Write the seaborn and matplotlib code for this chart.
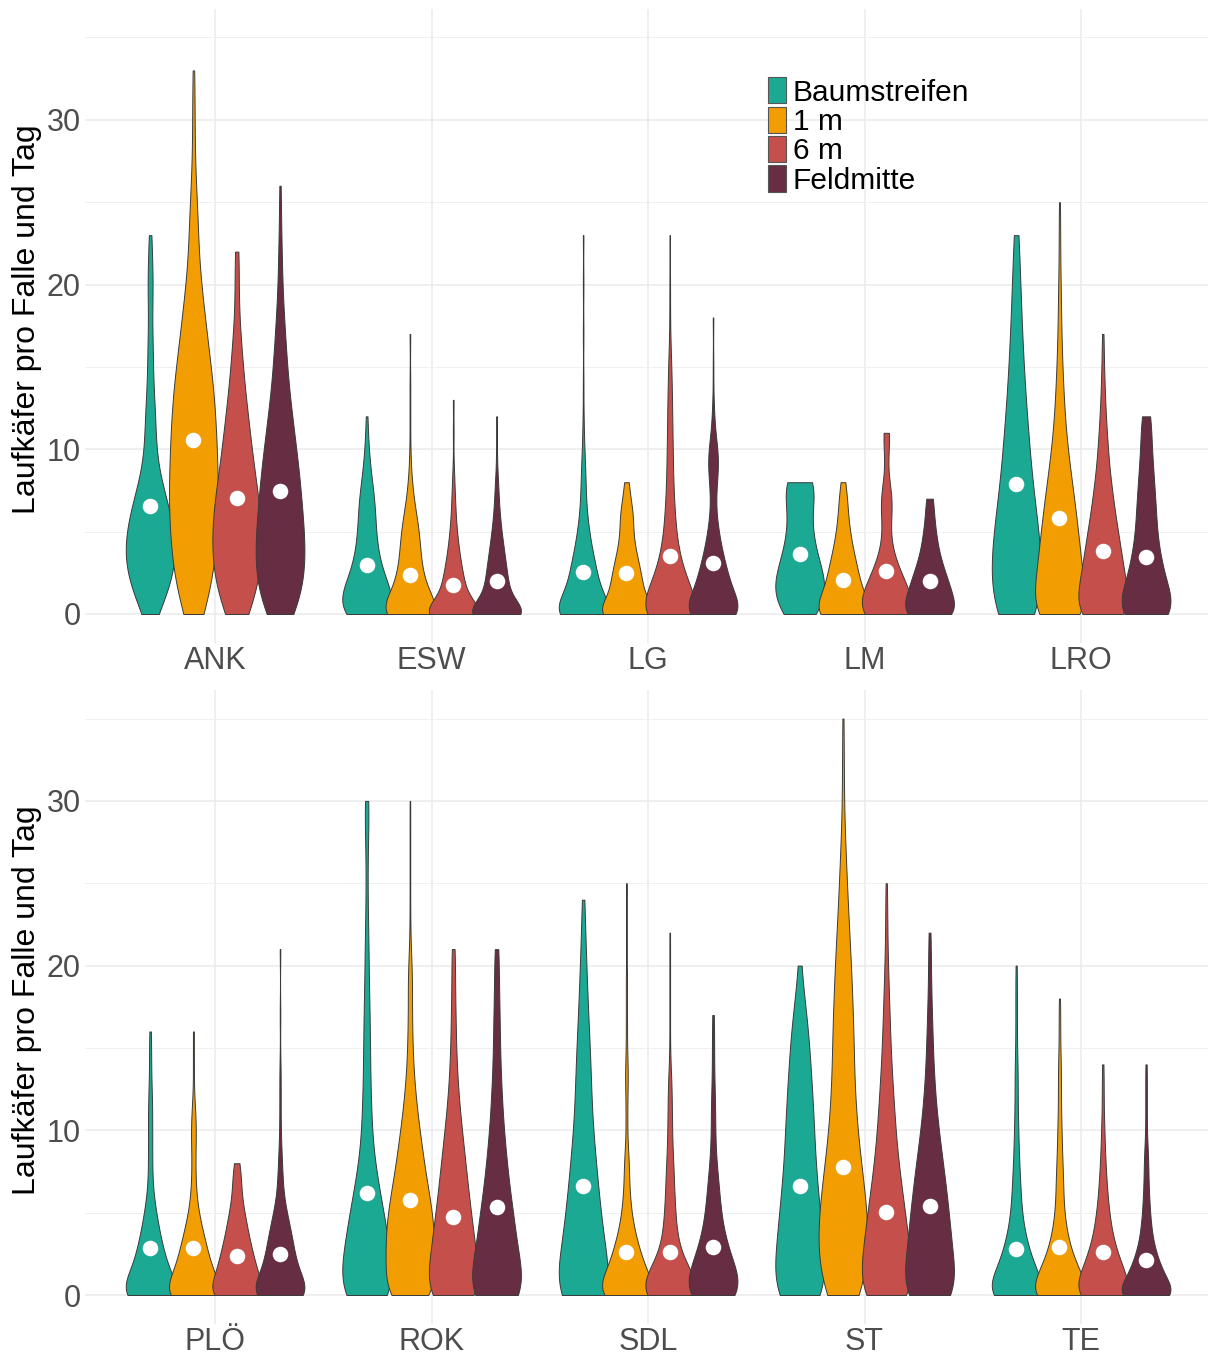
import numpy as np
import pandas as pd
import matplotlib
matplotlib.use("Agg")
import matplotlib.pyplot as plt
from matplotlib.patches import Patch
import seaborn as sns

positions = ["Baumstreifen", "1 m", "6 m", "Feldmitte"]
palette = ["#1BA994", "#F29E02", "#C5504B", "#672D43"]

sites_top = ["ANK", "ESW", "LG", "LM", "LRO"]
sites_bottom = ["PLÖ", "ROK", "SDL", "ST", "TE"]

# Number of trap-days with 0, 1, 2, ... beetles per trap and day,
# one list per position (Baumstreifen, 1 m, 6 m, Feldmitte)
ank = [
    [4, 9, 11, 14, 14, 13, 11, 9, 6, 4, 3, 3, 3, 2, 2, 1, 2, 1, 1, 1, 2, 1, 1, 1],
    [11, 12, 16, 17, 18, 19, 20, 20, 20, 19, 19, 18, 18, 17, 16, 14, 12, 11, 9, 8, 6, 5, 3, 4, 4, 3, 2, 1, 1, 1, 1, 1, 1, 1],
    [8, 10, 12, 13, 14, 13, 13, 12, 10, 9, 8, 7, 6, 5, 4, 3, 3, 2, 1, 1, 1, 1, 2],
    [19, 20, 24, 25, 25, 24, 22, 21, 20, 18, 16, 14, 12, 10, 8, 7, 6, 5, 4, 3, 2, 2, 2, 1, 1, 1, 1],
]
esw = [
    [27, 25, 18, 12, 10, 8, 8, 7, 5, 3, 2, 1, 1],
    [54, 29, 20, 16, 14, 13, 9, 5, 3, 1, 1, 0, 1, 0, 1, 0, 0, 1],
    [62, 23, 18, 13, 9, 6, 4, 3, 2, 1, 0, 1, 0, 1],
    [67, 25, 21, 17, 13, 9, 6, 4, 3, 1, 1, 0, 1],
]
lg = [
    [64, 28, 23, 19, 13, 9, 6, 4, 4, 3, 2, 1, 1, 0, 1, 0, 0, 1, 0, 0, 1, 0, 0, 1],
    [45, 22, 20, 16, 11, 8, 9, 5, 3],
    [60, 34, 24, 17, 11, 9, 7, 6, 5, 4, 5, 3, 4, 3, 3, 2, 2, 0, 1, 0, 1, 0, 0, 1],
    [60, 34, 26, 20, 13, 9, 5, 4, 6, 9, 8, 3, 2, 1, 0, 1, 0, 0, 1],
]
lm = [
    [5, 7, 7, 5, 4, 3, 3, 3, 6],
    [16, 9, 7, 6, 4, 3, 2, 2, 1],
    [14, 10, 7, 4, 2, 1, 2, 3, 1, 0, 1, 2],
    [15, 11, 9, 6, 4, 3, 2, 2],
]
lro = [
    [16, 9, 10, 10, 10, 9, 8, 7, 6, 6, 5, 5, 4, 4, 3, 3, 3, 2, 2, 2, 2, 1, 1, 2],
    [55, 33, 32, 30, 28, 25, 23, 20, 17, 14, 11, 9, 7, 6, 5, 4, 3, 3, 2, 2, 2, 1, 1, 1, 1, 1],
    [35, 24, 22, 20, 17, 15, 12, 10, 8, 6, 5, 4, 3, 2, 2, 1, 1, 1],
    [36, 21, 17, 14, 11, 9, 9, 8, 7, 6, 5, 4, 6],
]
plo = [
    [40, 20, 15, 12, 8, 6, 3, 2, 2, 2, 2, 2, 2, 1, 1, 1, 1],
    [40, 21, 17, 13, 9, 5, 3, 2, 2, 2, 3, 2, 1, 0, 1, 0, 1],
    [22, 14, 12, 9, 7, 5, 3, 3, 2],
    [60, 30, 24, 20, 16, 10, 5, 4, 3, 2, 1, 1, 1, 1, 1, 0, 0, 1, 0, 0, 0, 1],
]
rok = [
    [44, 24, 24, 23, 20, 17, 14, 11, 8, 6, 5, 5, 4, 4, 3, 4, 3, 3, 3, 2, 2, 2, 2, 1, 1, 1, 1, 1, 1, 3, 3],
    [50, 36, 38, 39, 38, 35, 31, 26, 22, 19, 15, 12, 9, 7, 5, 4, 4, 3, 3, 4, 3, 1, 1, 0, 1, 0, 1, 0, 1, 0, 1],
    [49, 27, 27, 25, 23, 20, 18, 16, 14, 12, 10, 8, 6, 5, 4, 3, 3, 3, 2, 2, 2, 3],
    [45, 20, 19, 18, 16, 15, 12, 10, 9, 8, 6, 5, 5, 4, 3, 3, 3, 3, 2, 2, 2, 3],
]
sdl = [
    [48, 19, 19, 18, 17, 15, 13, 12, 11, 10, 8, 7, 7, 7, 6, 6, 5, 4, 4, 3, 3, 2, 2, 1, 2],
    [60, 40, 28, 20, 13, 8, 6, 4, 5, 2, 1, 2, 1, 3, 2, 1, 1, 1, 1, 1, 1, 0, 1, 0, 1, 1],
    [60, 40, 20, 12, 10, 8, 7, 6, 6, 3, 4, 3, 3, 3, 1, 0, 1, 0, 1, 0, 1, 0, 1],
    [36, 24, 18, 13, 9, 7, 6, 5, 3, 2, 2, 2, 2, 1, 1, 1, 1, 1],
]
st = [
    [23, 11, 12, 11, 11, 10, 9, 8, 8, 7, 7, 7, 6, 6, 5, 5, 4, 4, 2, 1, 1],
    [32, 25, 29, 29, 28, 27, 25, 22, 20, 17, 16, 14, 13, 12, 12, 12, 12, 11, 10, 10, 9, 8, 7, 6, 5, 4, 4, 3, 2, 1, 1, 1, 1, 1, 1, 1],
    [41, 23, 24, 22, 21, 18, 16, 14, 12, 10, 9, 8, 7, 6, 5, 4, 4, 3, 3, 2, 2, 1, 1, 1, 1, 1],
    [32, 16, 16, 15, 15, 13, 12, 11, 9, 8, 6, 5, 4, 3, 3, 2, 2, 2, 1, 1, 1, 1, 1],
]
te = [
    [50, 30, 21, 15, 10, 7, 6, 5, 4, 3, 3, 2, 2, 2, 2, 1, 1, 1, 1, 1, 1],
    [50, 30, 21, 13, 9, 6, 5, 5, 4, 3, 3, 2, 2, 2, 2, 1, 1, 1, 1],
    [40, 26, 19, 13, 9, 7, 5, 4, 3, 2, 2, 1, 1, 1, 1],
    [45, 25, 17, 10, 7, 5, 4, 3, 3, 2, 1, 1, 1, 1, 1],
]

# Mean beetles per trap and day for each site and position
means_top = [
    [6.56, 10.58, 7.03, 7.48],
    [2.97, 2.35, 1.73, 2.01],
    [2.54, 2.47, 3.50, 3.09],
    [3.63, 2.09, 2.60, 1.98],
    [7.89, 5.83, 3.83, 3.46],
]
means_bottom = [
    [2.83, 2.88, 2.35, 2.48],
    [6.18, 5.75, 4.73, 5.37],
    [6.62, 2.60, 2.60, 2.90],
    [6.63, 7.77, 5.02, 5.43],
    [2.81, 2.89, 2.63, 2.11],
]

freqs_top = [ank, esw, lg, lm, lro]
freqs_bottom = [plo, rok, sdl, st, te]


def nrd0(kde):
    """Silverman's rule of thumb (R's bw.nrd0), as a factor of the data sd."""
    x = kde.dataset[0]
    sd = np.std(x, ddof=1)
    q75, q25 = np.percentile(x, [75, 25])
    spread = min(sd, (q75 - q25) / 1.34)
    if spread <= 0:
        spread = sd
    return 0.9 * spread * len(x) ** -0.2 / sd


def slot(i, j):
    return i + (j - 1.5) * 0.2


def long_table(sites, freqs):
    parts = []
    for i, site in enumerate(sites):
        for j, pos in enumerate(positions):
            f = freqs[i][j]
            values = np.repeat(np.arange(len(f)), f)
            parts.append(pd.DataFrame({"site": site, "position": pos,
                                       "slot": slot(i, j), "value": values}))
    return pd.concat(parts, ignore_index=True)


def mean_table(sites, means):
    rows = [{"site": s, "position": p, "slot": slot(i, j), "mean": means[i][j]}
            for i, s in enumerate(sites) for j, p in enumerate(positions)]
    return pd.DataFrame(rows)


sns.set_theme(style="white")
plt.rcParams["font.family"] = ["Liberation Sans", "DejaVu Sans"]

fig = plt.figure(figsize=(12.08, 13.55), dpi=100)
ax_top = fig.add_axes([0.0705, 0.5256, 0.9320, 0.4680])
ax_bot = fig.add_axes([0.0705, 0.0230, 0.9320, 0.4680])

for ax, sites, freqs, means in [(ax_top, sites_top, freqs_top, means_top),
                                (ax_bot, sites_bottom, freqs_bottom, means_bottom)]:
    df = long_table(sites, freqs)
    sns.violinplot(data=df, x="slot", y="value", hue="position",
                   hue_order=positions, palette=palette, saturation=1,
                   native_scale=True, dodge=False, orient="x",
                   density_norm="width", cut=0, inner=None, width=1.125,
                   gridsize=512, bw_method=nrd0, linewidth=0.7,
                   linecolor="#3A3A3A", legend=False, ax=ax)
    sns.scatterplot(data=mean_table(sites, means), x="slot", y="mean",
                    color="white", s=125, linewidth=0, zorder=4,
                    legend=False, ax=ax)

    ax.set_xlim(-0.6, 4.6)
    ax.set_ylim(-1.75, 36.75)
    ax.set_xticks(range(len(sites)))
    ax.set_xticklabels(sites)
    ax.set_yticks([0, 10, 20, 30])
    ax.set_yticks([5, 15, 25, 35], minor=True)
    ax.grid(which="major", color="#EBEBEB", linewidth=1.1)
    ax.grid(which="minor", axis="y", color="#F0F0F0", linewidth=0.7)
    ax.set_axisbelow(True)
    for spine in ax.spines.values():
        spine.set_visible(False)
    ax.tick_params(which="both", length=0, labelsize=22, labelcolor="#4D4D4D")
    ax.tick_params(axis="x", pad=2)
    ax.tick_params(axis="y", pad=3)
    ax.set_xlabel("")
    ax.set_ylabel("Laufkäfer pro Falle und Tag", fontsize=23, color="black")
    ax.yaxis.set_label_coords(-0.038, 0.51)

handles = [Patch(facecolor=c, edgecolor="#555555", linewidth=0.8, label=p)
           for c, p in zip(palette, positions)]
ax_top.legend(handles=handles, loc="upper left", bbox_to_anchor=(0.6066, 0.892),
              frameon=False, fontsize=21.5, labelcolor="black",
              handlelength=0.6, handleheight=0.98, handletextpad=0.22,
              labelspacing=0.0, borderpad=0, borderaxespad=0)

fig.savefig("out.png", dpi=100)
